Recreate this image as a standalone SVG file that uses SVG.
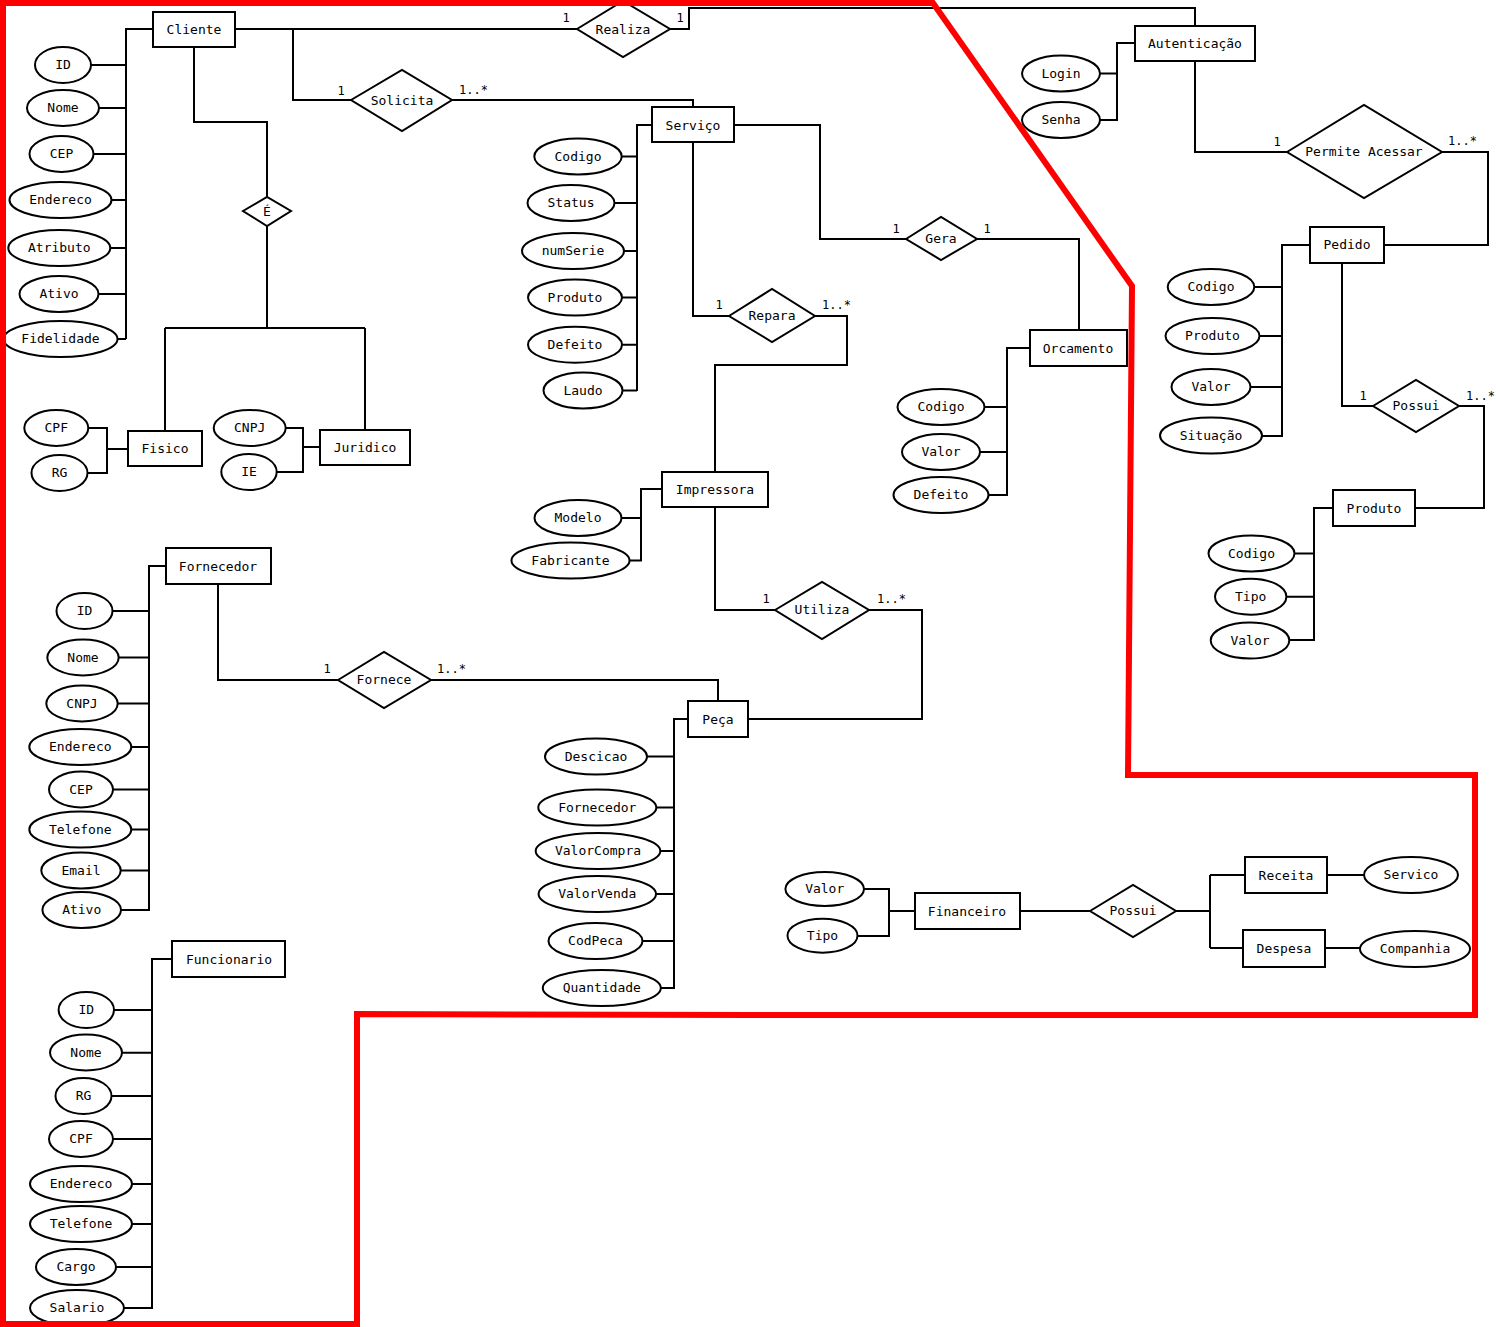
<svg xmlns="http://www.w3.org/2000/svg" width="1496" height="1327" viewBox="0 0 1496 1327">
<style>
.e{fill:#fff;stroke:#000;stroke-width:2}
.t{font-family:"DejaVu Sans Mono","Liberation Mono",monospace;font-size:13px;fill:#000;text-anchor:middle}
.c{font-family:"DejaVu Sans Mono","Liberation Mono",monospace;font-size:12px;fill:#000}
.cm{text-anchor:middle}
.conn path{fill:none;stroke:#000;stroke-width:2}
.red{fill:none;stroke:#ff0000;stroke-width:6;stroke-linejoin:miter}
</style>
<rect width="1496" height="1327" fill="#fff"/>
<g class="conn" id="connectors">
<path d="M153,29H126V339M91,65H126M99,108H126M93,154H126M111.5,200H126M110,248H126M98.5,294H126M117.5,339H126"/>
<path d="M235,29H577"/>
<path d="M293,29V100H351"/>
<path d="M194,47V122H267V197"/>
<path d="M267,226V328M165,328H365M165,328V431M365,328V430"/>
<path d="M670,29H689V8H1195V26"/>
<path d="M452,100H693V107"/>
<path d="M652,125H637V391M621.7,156.5H637M614.5,203H637M624,251H637M622,297.5H637M622,344.7H637M622.5,390.5H637"/>
<path d="M734,125H820V239H906"/>
<path d="M977,239H1079V330"/>
<path d="M693,142V316H729"/>
<path d="M815,316H847V365H715V472"/>
<path d="M1135,43H1117V120H1100M1100,73.5H1117"/>
<path d="M1195,61V152H1287"/>
<path d="M1442,152H1488V245H1384"/>
<path d="M1310,245H1282V436H1262M1254.5,287H1282M1259.5,336H1282M1250.5,387H1282"/>
<path d="M1342,263V406H1373"/>
<path d="M1459,406H1484V508H1415"/>
<path d="M1333,508H1314V640H1289.5M1294.5,553.5H1314M1286.5,596.7H1314"/>
<path d="M1030,348H1007V495H988.5M984.5,407H1007M980,452H1007"/>
<path d="M88,428H107V473H87.5M107,449H128"/>
<path d="M285.7,428H303V472H276.7M303,447H320"/>
<path d="M166,566H149V910H121M112.5,611H149M118.7,657.5H149M117.7,703.5H149M131.3,747H149M113,789.5H149M131.3,829.5H149M120.7,870.5H149"/>
<path d="M218,584V680H338"/>
<path d="M431,680H718V701"/>
<path d="M662,489H641V560.5H629.5M621.5,518H641"/>
<path d="M715,507V610H775"/>
<path d="M869,610H922V719H748"/>
<path d="M688,719H674V988H661M647,756.5H674M656.3,807.5H674M660.3,851H674M656,894H674M642.7,941H674"/>
<path d="M172,959H152V1308H124M114,1010H152M122,1052.7H152M111.5,1096H152M113,1139H152M132,1184H152M132,1224H152M116,1267H152"/>
<path d="M864,889H889V936H857.5M889,911H915"/>
<path d="M1020,911H1090"/>
<path d="M1176,911H1210M1210,875V948M1210,875H1245M1210,948H1243"/>
<path d="M1327,875H1364M1325,948H1360"/>
</g>
<g id="cardinalities">
<text class="c cm" x="566" y="22">1</text>
<text class="c cm" x="680" y="22">1</text>
<text class="c cm" x="341" y="95">1</text>
<text class="c" x="459" y="94">1..*</text>
<text class="c cm" x="896" y="233">1</text>
<text class="c cm" x="987" y="233">1</text>
<text class="c cm" x="719" y="309">1</text>
<text class="c" x="822" y="309">1..*</text>
<text class="c cm" x="1277" y="146">1</text>
<text class="c" x="1448" y="145">1..*</text>
<text class="c cm" x="1363" y="400">1</text>
<text class="c" x="1466" y="400">1..*</text>
<text class="c cm" x="766" y="603">1</text>
<text class="c" x="877" y="603">1..*</text>
<text class="c cm" x="327" y="673">1</text>
<text class="c" x="437" y="673">1..*</text>
</g>
<!-- Entities -->
<g id="cliente"><rect class="e" x="153" y="12" width="82" height="35"/><text class="t" x="194" y="34">Cliente</text></g>
<g id="servico"><rect class="e" x="652" y="107" width="82" height="35"/><text class="t" x="693" y="130">Serviço</text></g>
<g id="autenticacao"><rect class="e" x="1135" y="26" width="120" height="35"/><text class="t" x="1195" y="48">Autenticação</text></g>
<g id="pedido"><rect class="e" x="1310" y="227" width="74" height="36"/><text class="t" x="1347" y="249">Pedido</text></g>
<g id="orcamento"><rect class="e" x="1030" y="330" width="97" height="36"/><text class="t" x="1078" y="353">Orcamento</text></g>
<g id="fisico"><rect class="e" x="128" y="431" width="74" height="35"/><text class="t" x="165" y="453">Fisico</text></g>
<g id="juridico"><rect class="e" x="320" y="430" width="90" height="35"/><text class="t" x="365" y="452">Juridico</text></g>
<g id="fornecedor"><rect class="e" x="166" y="548" width="105" height="36"/><text class="t" x="218" y="571">Fornecedor</text></g>
<g id="impressora"><rect class="e" x="662" y="472" width="106" height="35"/><text class="t" x="715" y="494">Impressora</text></g>
<g id="peca"><rect class="e" x="688" y="701" width="60" height="36"/><text class="t" x="718" y="724">Peça</text></g>
<g id="funcionario"><rect class="e" x="172" y="941" width="113" height="36"/><text class="t" x="229" y="964">Funcionario</text></g>
<g id="produto"><rect class="e" x="1333" y="490" width="82" height="36"/><text class="t" x="1374" y="513">Produto</text></g>
<g id="financeiro"><rect class="e" x="915" y="893" width="105" height="36"/><text class="t" x="967" y="916">Financeiro</text></g>
<g id="receita"><rect class="e" x="1245" y="857" width="82" height="36"/><text class="t" x="1286" y="880">Receita</text></g>
<g id="despesa"><rect class="e" x="1243" y="930" width="82" height="37"/><text class="t" x="1284" y="953">Despesa</text></g>
<!-- Relationships -->
<g id="realiza"><polygon class="e" points="577,29 623,1 670,29 623,57"/><text class="t" x="623" y="34">Realiza</text></g>
<g id="solicita"><polygon class="e" points="351,100 402,70 452,100 402,131"/><text class="t" x="402" y="105">Solicita</text></g>
<g id="e-rel"><polygon class="e" points="243,211 267,197 291,211 267,226"/><text class="t" x="267" y="216">É</text></g>
<g id="gera"><polygon class="e" points="906,239 941,217 977,239 941,260"/><text class="t" x="941" y="243">Gera</text></g>
<g id="repara"><polygon class="e" points="729,316 772,289 815,316 772,342"/><text class="t" x="772" y="320">Repara</text></g>
<g id="permite"><polygon class="e" points="1287,152 1364,105 1442,152 1364,198"/><text class="t" x="1364" y="156">Permite Acessar</text></g>
<g id="possui-pedido"><polygon class="e" points="1373,406 1416,380 1459,406 1416,432"/><text class="t" x="1416" y="410">Possui</text></g>
<g id="utiliza"><polygon class="e" points="775,610 822,582 869,610 822,639"/><text class="t" x="822" y="614">Utiliza</text></g>
<g id="fornece"><polygon class="e" points="338,680 384,652 431,680 384,708"/><text class="t" x="384" y="684">Fornece</text></g>
<g id="possui-fin"><polygon class="e" points="1090,911 1133,885 1176,911 1133,937"/><text class="t" x="1133" y="915">Possui</text></g>
<!-- Attributes: Cliente -->
<g id="cli-id"><ellipse class="e" cx="63" cy="65" rx="28" ry="18"/><text class="t" x="63" y="69">ID</text></g>
<g id="cli-nome"><ellipse class="e" cx="63" cy="108" rx="36" ry="18"/><text class="t" x="63" y="112">Nome</text></g>
<g id="cli-cep"><ellipse class="e" cx="61.5" cy="154" rx="32" ry="18"/><text class="t" x="61.5" y="158">CEP</text></g>
<g id="cli-end"><ellipse class="e" cx="60.5" cy="200" rx="51" ry="18"/><text class="t" x="60.5" y="204">Endereco</text></g>
<g id="cli-atr"><ellipse class="e" cx="59.3" cy="248" rx="51" ry="18"/><text class="t" x="59.3" y="252">Atributo</text></g>
<g id="cli-ativo"><ellipse class="e" cx="59" cy="294" rx="39.5" ry="18"/><text class="t" x="59" y="298">Ativo</text></g>
<g id="cli-fid"><ellipse class="e" cx="60.5" cy="339" rx="57" ry="18"/><text class="t" x="60.5" y="343">Fidelidade</text></g>
<!-- Serviço -->
<g id="srv-cod"><ellipse class="e" cx="578" cy="156.5" rx="43.7" ry="18"/><text class="t" x="578" y="161">Codigo</text></g>
<g id="srv-status"><ellipse class="e" cx="571" cy="203" rx="43.5" ry="18"/><text class="t" x="571" y="207">Status</text></g>
<g id="srv-num"><ellipse class="e" cx="573" cy="251" rx="51" ry="18"/><text class="t" x="573" y="255">numSerie</text></g>
<g id="srv-prod"><ellipse class="e" cx="575" cy="297.5" rx="47" ry="18"/><text class="t" x="575" y="302">Produto</text></g>
<g id="srv-def"><ellipse class="e" cx="575" cy="344.7" rx="47" ry="18"/><text class="t" x="575" y="349">Defeito</text></g>
<g id="srv-laudo"><ellipse class="e" cx="583" cy="390.5" rx="39.5" ry="18"/><text class="t" x="583" y="395">Laudo</text></g>
<!-- Autenticação -->
<g id="aut-login"><ellipse class="e" cx="1061" cy="73.5" rx="39" ry="18"/><text class="t" x="1061" y="78">Login</text></g>
<g id="aut-senha"><ellipse class="e" cx="1061" cy="120" rx="39" ry="18"/><text class="t" x="1061" y="124">Senha</text></g>
<!-- Pedido -->
<g id="ped-cod"><ellipse class="e" cx="1211" cy="287" rx="43.3" ry="18"/><text class="t" x="1211" y="291">Codigo</text></g>
<g id="ped-prod"><ellipse class="e" cx="1212.5" cy="336" rx="47" ry="18"/><text class="t" x="1212.5" y="340">Produto</text></g>
<g id="ped-valor"><ellipse class="e" cx="1211" cy="387" rx="39.5" ry="18"/><text class="t" x="1211" y="391">Valor</text></g>
<g id="ped-sit"><ellipse class="e" cx="1211" cy="435.5" rx="51" ry="18"/><text class="t" x="1211" y="440">Situação</text></g>
<!-- Produto -->
<g id="pro-cod"><ellipse class="e" cx="1251.5" cy="553.5" rx="43" ry="18"/><text class="t" x="1251.5" y="558">Codigo</text></g>
<g id="pro-tipo"><ellipse class="e" cx="1250.7" cy="596.7" rx="35.7" ry="18"/><text class="t" x="1250.7" y="601">Tipo</text></g>
<g id="pro-valor"><ellipse class="e" cx="1250" cy="640.5" rx="39.3" ry="18"/><text class="t" x="1250" y="645">Valor</text></g>
<!-- Orcamento -->
<g id="orc-cod"><ellipse class="e" cx="941" cy="407" rx="43.5" ry="18"/><text class="t" x="941" y="411">Codigo</text></g>
<g id="orc-valor"><ellipse class="e" cx="941" cy="452" rx="39" ry="18"/><text class="t" x="941" y="456">Valor</text></g>
<g id="orc-def"><ellipse class="e" cx="941" cy="495" rx="47.5" ry="18"/><text class="t" x="941" y="499">Defeito</text></g>
<!-- Fisico / Juridico -->
<g id="fis-cpf"><ellipse class="e" cx="56.3" cy="428" rx="32" ry="18"/><text class="t" x="56.3" y="432">CPF</text></g>
<g id="fis-rg"><ellipse class="e" cx="59.5" cy="473" rx="28" ry="18"/><text class="t" x="59.5" y="477">RG</text></g>
<g id="jur-cnpj"><ellipse class="e" cx="249.7" cy="428" rx="36" ry="18"/><text class="t" x="249.7" y="432">CNPJ</text></g>
<g id="jur-ie"><ellipse class="e" cx="249" cy="472" rx="27.7" ry="18"/><text class="t" x="249" y="476">IE</text></g>
<!-- Fornecedor -->
<g id="for-id"><ellipse class="e" cx="84.5" cy="611" rx="28" ry="18"/><text class="t" x="84.5" y="615">ID</text></g>
<g id="for-nome"><ellipse class="e" cx="83" cy="657.5" rx="35.7" ry="18"/><text class="t" x="83" y="662">Nome</text></g>
<g id="for-cnpj"><ellipse class="e" cx="82" cy="703.5" rx="35.7" ry="18"/><text class="t" x="82" y="708">CNPJ</text></g>
<g id="for-end"><ellipse class="e" cx="80.3" cy="747" rx="51" ry="18"/><text class="t" x="80.3" y="751">Endereco</text></g>
<g id="for-cep"><ellipse class="e" cx="81" cy="789.5" rx="32" ry="18"/><text class="t" x="81" y="794">CEP</text></g>
<g id="for-tel"><ellipse class="e" cx="80.3" cy="829.5" rx="51" ry="18"/><text class="t" x="80.3" y="834">Telefone</text></g>
<g id="for-email"><ellipse class="e" cx="81" cy="870.5" rx="39.7" ry="18"/><text class="t" x="81" y="875">Email</text></g>
<g id="for-ativo"><ellipse class="e" cx="81.7" cy="910" rx="39.3" ry="18"/><text class="t" x="81.7" y="914">Ativo</text></g>
<!-- Impressora -->
<g id="imp-modelo"><ellipse class="e" cx="578" cy="518" rx="43.5" ry="18"/><text class="t" x="578" y="522">Modelo</text></g>
<g id="imp-fab"><ellipse class="e" cx="570.5" cy="560.5" rx="59" ry="18"/><text class="t" x="570.5" y="565">Fabricante</text></g>
<!-- Peça -->
<g id="pec-desc"><ellipse class="e" cx="596" cy="756.5" rx="51" ry="18"/><text class="t" x="596" y="761">Descicao</text></g>
<g id="pec-forn"><ellipse class="e" cx="597.3" cy="807.5" rx="59" ry="18"/><text class="t" x="597.3" y="812">Fornecedor</text></g>
<g id="pec-vc"><ellipse class="e" cx="598" cy="851" rx="62.3" ry="18"/><text class="t" x="598" y="855">ValorCompra</text></g>
<g id="pec-vv"><ellipse class="e" cx="597.3" cy="894" rx="58.7" ry="18"/><text class="t" x="597.3" y="898">ValorVenda</text></g>
<g id="pec-cod"><ellipse class="e" cx="595.5" cy="941" rx="47" ry="18"/><text class="t" x="595.5" y="945">CodPeca</text></g>
<g id="pec-qtd"><ellipse class="e" cx="601.8" cy="988" rx="59" ry="18"/><text class="t" x="601.8" y="992">Quantidade</text></g>
<!-- Funcionario -->
<g id="fun-id"><ellipse class="e" cx="86.3" cy="1010" rx="27.7" ry="18"/><text class="t" x="86.3" y="1014">ID</text></g>
<g id="fun-nome"><ellipse class="e" cx="86" cy="1052.5" rx="36" ry="18"/><text class="t" x="86" y="1057">Nome</text></g>
<g id="fun-rg"><ellipse class="e" cx="83.5" cy="1096" rx="28" ry="18"/><text class="t" x="83.5" y="1100">RG</text></g>
<g id="fun-cpf"><ellipse class="e" cx="81" cy="1139" rx="32" ry="18"/><text class="t" x="81" y="1143">CPF</text></g>
<g id="fun-end"><ellipse class="e" cx="81" cy="1184" rx="51" ry="18"/><text class="t" x="81" y="1188">Endereco</text></g>
<g id="fun-tel"><ellipse class="e" cx="81" cy="1224" rx="51" ry="18"/><text class="t" x="81" y="1228">Telefone</text></g>
<g id="fun-cargo"><ellipse class="e" cx="76" cy="1267" rx="40" ry="18"/><text class="t" x="76" y="1271">Cargo</text></g>
<g id="fun-sal"><ellipse class="e" cx="77" cy="1308" rx="47" ry="18"/><text class="t" x="77" y="1312">Salario</text></g>
<!-- Financeiro -->
<g id="fin-valor"><ellipse class="e" cx="824.7" cy="889" rx="39.3" ry="17"/><text class="t" x="824.7" y="893">Valor</text></g>
<g id="fin-tipo"><ellipse class="e" cx="822.5" cy="935.7" rx="35" ry="17"/><text class="t" x="822.5" y="940">Tipo</text></g>
<g id="rec-serv"><ellipse class="e" cx="1411" cy="875" rx="47" ry="18"/><text class="t" x="1411" y="879">Servico</text></g>
<g id="desp-comp"><ellipse class="e" cx="1415" cy="949" rx="55" ry="18"/><text class="t" x="1415" y="953">Companhia</text></g>
<!-- Red boundary -->
<path class="red" d="M3,1324V3H933L1132,286L1128,775H1475V1015H752L357,1014V1324Z"/>
</svg>
